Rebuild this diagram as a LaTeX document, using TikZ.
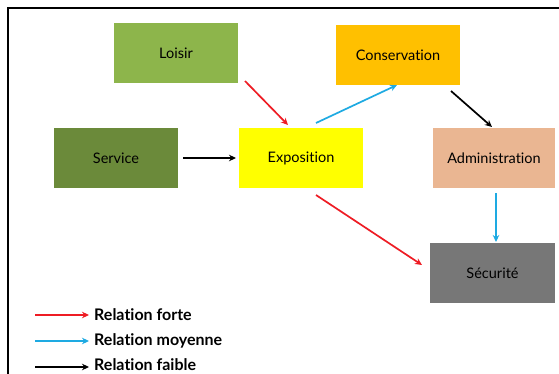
\documentclass[tikz,border=0pt]{standalone}
\usepackage{fontspec}
\setmainfont{Lato}[Ligatures={NoCommon}]
\usetikzlibrary{arrows.meta}
\definecolor{cLoisir}{HTML}{8DB54B}
\definecolor{cService}{HTML}{6B8A3A}
\definecolor{cCons}{HTML}{FFC000}
\definecolor{cExpo}{HTML}{FFFF00}
\definecolor{cAdmin}{HTML}{EAB692}
\definecolor{cSecu}{HTML}{777777}
\definecolor{cRed}{HTML}{EE1C24}
\definecolor{cBlue}{HTML}{1EAAE2}
\tikzset{
  box/.style={draw=none, minimum width=124pt, minimum height=60pt, inner sep=0pt, font=\fontsize{14.5}{16}\selectfont, text=black},
  conn/.style={line width=1.7pt, -{Stealth[length=7pt,width=6.5pt]}},
  strong/.style={conn, cRed},
  medium/.style={conn, cBlue},
  weak/.style={conn, black},
  legtext/.style={anchor=west, inner sep=0pt, font=\bfseries\fontsize{16}{17}\selectfont}
}
\begin{document}
\begin{tikzpicture}[x=1pt,y=-1pt]
\useasboundingbox (0,0) rectangle (559,374);
\fill[white] (0,0) rectangle (559,374);
\draw[line width=2pt] (8,380) -- (8,8) -- (565,8);

\node[box, fill=cLoisir] (loisir) at (176,53) {Loisir};
\node[box, fill=cCons] (cons) at (398,55) {Conservation};
\node[box, fill=cService] (service) at (116,158) {Service};
\node[box, fill=cExpo] (expo) at (301,158) {Exposition};
\node[box, fill=cAdmin, minimum width=122pt] (admin) at (494,158) {Administration};
\node[box, fill=cSecu, minimum width=125pt] (secu) at (492.5,273) {Sécurité};

\coordinate (a1s) at (245,81);
\coordinate (a1e) at (288,125);
\draw[strong] (a1s) -- (a1e);
\coordinate (a2s) at (316,123);
\coordinate (a2e) at (397,85);
\draw[medium] (a2s) -- (a2e);
\coordinate (a3s) at (451,91);
\coordinate (a3e) at (492,127);
\draw[weak] (a3s) -- (a3e);
\coordinate (a4s) at (183,158);
\coordinate (a4e) at (236,158);
\draw[weak] (a4s) -- (a4e);
\coordinate (a5s) at (316,195);
\coordinate (a5e) at (422,265);
\draw[strong] (a5s) -- (a5e);
\coordinate (a6s) at (496,193);
\coordinate (a6e) at (496,242);
\draw[medium] (a6s) -- (a6e);

\coordinate (l1s) at (35,315);
\coordinate (l1e) at (89,315);
\draw[strong] (l1s) -- (l1e);
\node[legtext] (t1) at (94,315) {Relation forte};
\coordinate (l2s) at (35,341);
\coordinate (l2e) at (89,341);
\draw[medium] (l2s) -- (l2e);
\node[legtext] (t2) at (94,341) {Relation moyenne};
\coordinate (l3s) at (35,367);
\coordinate (l3e) at (89,367);
\draw[weak] (l3s) -- (l3e);
\node[legtext] (t3) at (94,365) {Relation faible};
\end{tikzpicture}
\end{document}
